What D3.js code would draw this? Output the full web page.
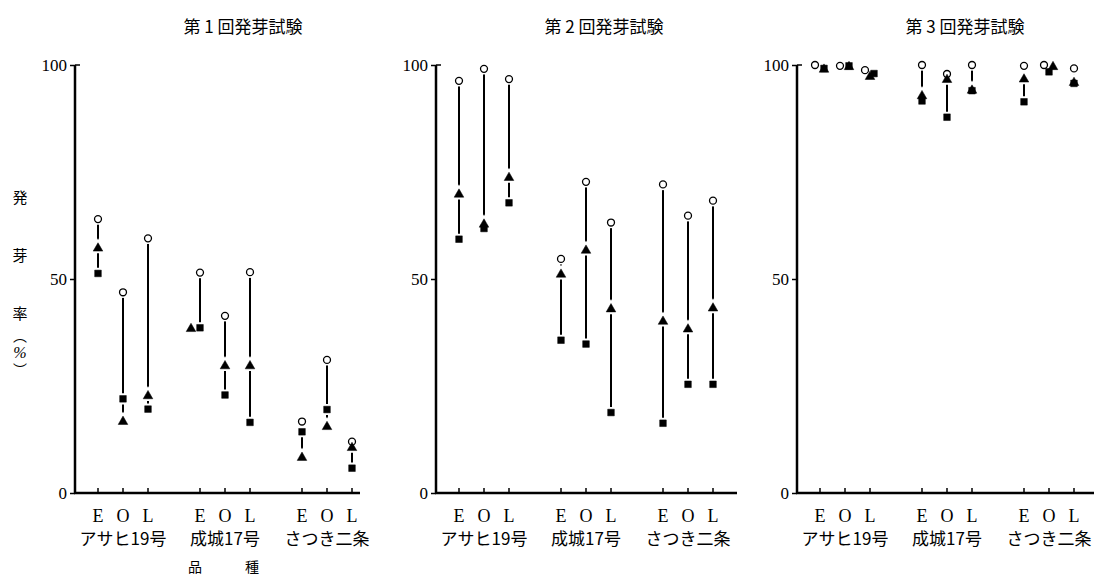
<!DOCTYPE html>
<html><head><meta charset="utf-8">
<script src="https://cdn.jsdelivr.net/npm/d3@7"></script>
<style>html,body{margin:0;padding:0;background:#fff;}</style>
</head><body>
<svg id="chart" width="1094" height="579"></svg>
<script>
const trials = ["第 1 回発芽試験", "第 2 回発芽試験", "第 3 回発芽試験"];
const categories = ["アサヒ19号", "成城17号", "さつき二条"];
const timings = ["E", "O", "L"];
const yTicks = [0, 50, 100];
const yLabelChars = ["発", "芽", "率"];
const xTitleChars = ["品", "種"];
// per trial, 9 values ordered category × timing (E, O, L)
const circleVals = [
  [64.0, 46.9, 59.5, 51.5, 41.4, 51.6, 16.7, 31.1, 12.0],
  [96.3, 99.1, 96.7, 54.7, 72.7, 63.2, 72.1, 64.8, 68.3],
  [100, 99.8, 98.8, 100, 97.9, 100, 99.8, 100, 99.2]
];
const triangleVals = [
  [57.4, 16.9, 22.9, 38.6, 29.9, 29.9, 8.5, 15.7, 10.8],
  [70.0, 63.0, 73.9, 51.3, 56.9, 43.2, 40.3, 38.5, 43.4],
  [99.2, 99.8, 97.5, 93.0, 96.8, 94.3, 96.9, 99.8, 96.1]
];
const squareVals = [
  [51.3, 22.0, 19.6, 38.6, 22.9, 16.5, 14.3, 19.5, 5.8],
  [59.3, 61.8, 67.8, 35.7, 34.8, 18.8, 16.3, 25.4, 25.4],
  [99.2, 99.8, 98.0, 91.6, 87.8, 94.0, 91.4, 98.4, 95.7]
];

const svg = d3.select("#chart");
const serif = "'Liberation Serif', 'DejaVu Serif', serif";
const jp = "'Noto Sans CJK JP', sans-serif";

const panelX = d3.scalePoint().domain(trials).range([75, 797]);
const axisLen = [285, 301, 297];
const y = d3.scaleLinear().domain([0, 100]).range([493, 65]);
const groupX = d3.scalePoint().domain(categories).range([48, 252]);
const timeX = d3.scalePoint().domain(timings).range([-25, 25]);

// y axis label
yLabelChars.forEach((c, i) => {
  svg.append("text").attr("x", 20).attr("y", 203 + i * 58).attr("text-anchor", "middle")
    .attr("font-family", jp).attr("font-size", 15).text(c);
});
svg.append("text").attr("x", 20).attr("y", 341).attr("text-anchor", "middle")
  .attr("font-family", jp).attr("font-size", 14).text("︵");
svg.append("text").attr("x", 20).attr("y", 358).attr("text-anchor", "middle")
  .attr("font-family", serif).attr("font-style", "italic").attr("font-size", 16).text("%");
svg.append("text").attr("x", 20).attr("y", 375).attr("text-anchor", "middle")
  .attr("font-family", jp).attr("font-size", 14).text("︶");

const symCircle = d3.symbol().type(d3.symbolCircle).size(38);
const symTri = d3.symbol().type(d3.symbolTriangle).size(40);
const symSq = d3.symbol().type(d3.symbolSquare).size(44);

trials.forEach((t, p) => {
  const x0 = panelX(t);
  const g = svg.append("g").attr("transform", `translate(${x0},0)`);

  g.append("text").attr("x", 168).attr("y", 33).attr("text-anchor", "middle")
    .attr("font-family", jp).attr("font-size", 17).text(t);

  // y axis
  const ya = d3.axisLeft(y).tickValues(yTicks).tickSize(5).tickFormat(d3.format("d"));
  const yg = g.append("g").call(ya);
  yg.select(".domain").remove();
  yg.selectAll(".tick line").attr("stroke", "#000").attr("stroke-width", 1.5);
  yg.selectAll(".tick text").attr("font-family", serif).attr("font-size", 17)
    .attr("fill", "#000").attr("x", -8);
  g.append("line").attr("x1", 0).attr("x2", 0).attr("y1", y(100)).attr("y2", y(0))
    .attr("stroke", "#000").attr("stroke-width", 2.5);
  g.append("line").attr("x1", 0).attr("x2", 5).attr("y1", y(100)).attr("y2", y(100))
    .attr("stroke", "#000").attr("stroke-width", 1.5);
  // x axis
  g.append("line").attr("x1", -1).attr("x2", axisLen[p]).attr("y1", y(0)).attr("y2", y(0))
    .attr("stroke", "#000").attr("stroke-width", 2.5);

  const pts = [];
  categories.forEach((c, ci) => {
    timings.forEach((tm, ti) => {
      const k = ci * 3 + ti;
      const cx = groupX(c) + timeX(tm);
      g.append("line").attr("x1", cx).attr("x2", cx).attr("y1", y(0)).attr("y2", y(0) - 5)
        .attr("stroke", "#000").attr("stroke-width", 1.5);
      const vc = circleVals[p][k], vt = triangleVals[p][k], vs = squareVals[p][k];
      // dodge overlapping markers horizontally
      let dc = 0, dt = 0, ds = 0;
      if (Math.abs(vt - vs) < 0.1) dt = -9;
      const nearT = Math.abs(vc - vt) < 1.0, nearS = Math.abs(vc - vs) < 1.0;
      if (nearT || nearS) {
        dc = -5;
        if (nearT) dt = 4;
        if (nearS) ds = 4;
      }
      const vmax = Math.max(vc, vt, vs), vmin = Math.min(vc, vt, vs);
      g.append("line").attr("x1", cx).attr("x2", cx).attr("y1", y(vmax)).attr("y2", y(vmin))
        .attr("stroke", "#000").attr("stroke-width", 2);
      pts.push({type: "c", x: cx + dc, v: vc});
      pts.push({type: "t", x: cx + dt, v: vt});
      pts.push({type: "s", x: cx + ds, v: vs});
    });
    g.append("text").attr("x", groupX(c)).attr("y", 545).attr("text-anchor", "middle")
      .attr("font-family", jp).attr("font-size", 17).text(c);
    timings.forEach(tm => {
      g.append("text").attr("x", groupX(c) + timeX(tm)).attr("y", 522).attr("text-anchor", "middle")
        .attr("font-family", serif).attr("font-size", 18).text(tm);
    });
  });

  const symFor = d => d.type === "c" ? symCircle() : d.type === "t" ? symTri() : symSq();
  // halos to create gaps in the connecting lines
  g.selectAll(".halo").data(pts).join("path").attr("class", "halo")
    .attr("transform", d => `translate(${d.x},${y(d.v) + (d.type === "t" ? 1 : 0)})`)
    .attr("d", symFor).attr("fill", "#fff").attr("stroke", "#fff").attr("stroke-width", 4.5);
  const order = {c: 0, t: 1, s: 2};
  g.selectAll(".mk").data(pts.slice().sort((a, b) => order[a.type] - order[b.type])).join("path").attr("class", "mk")
    .attr("transform", d => `translate(${d.x},${y(d.v) + (d.type === "t" ? 1 : 0)})`)
    .attr("d", symFor)
    .attr("fill", d => d.type === "c" ? "#fff" : "#000")
    .attr("stroke", "#000").attr("stroke-width", d => d.type === "c" ? 1.3 : 0.5);

  if (p === 0) {
    xTitleChars.forEach((c, i) => {
      g.append("text").attr("x", 120 + i * 57).attr("y", 572).attr("text-anchor", "middle")
        .attr("font-family", jp).attr("font-size", 14).text(c);
    });
  }
});
</script>
</body></html>
